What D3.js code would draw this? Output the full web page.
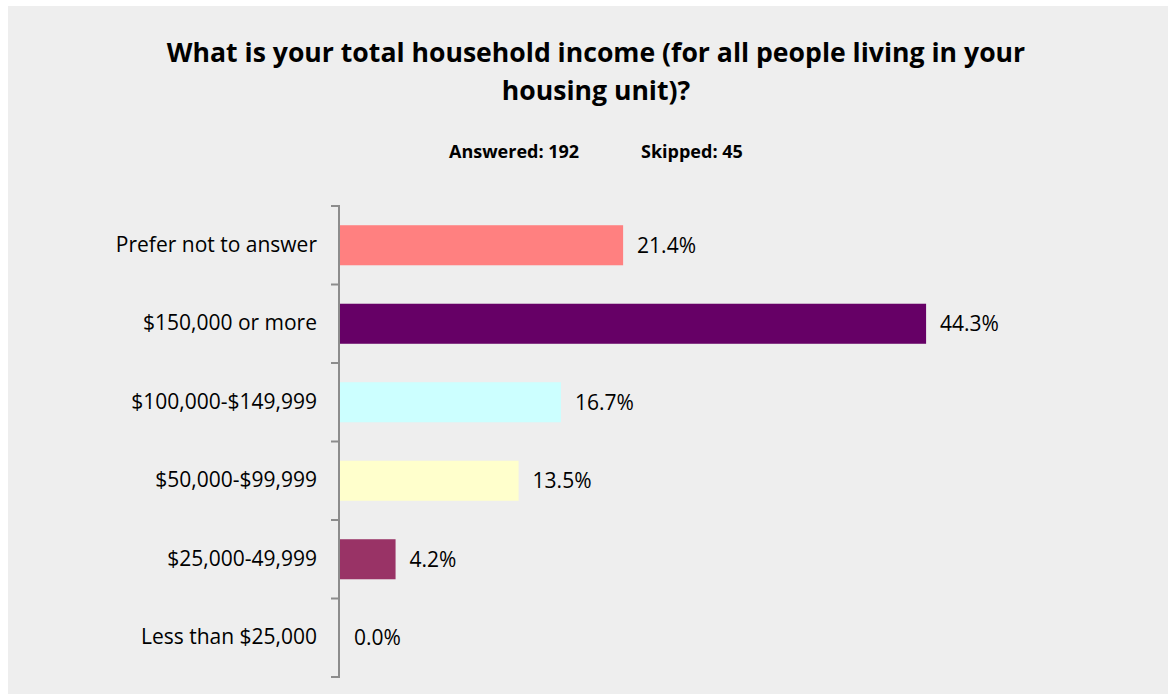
<!DOCTYPE html>
<html>
<head>
<meta charset="utf-8">
<script src="https://cdn.jsdelivr.net/npm/d3@7"></script>
<style>
html,body{margin:0;padding:0;background:#fff;}
svg{display:block;}
text{font-family:"Open Sans", sans-serif;}
</style>
</head>
<body>
<svg id="chart" width="1168" height="694"></svg>
<script>
const categories = ["Prefer not to answer", "$150,000 or more", "$100,000-$149,999", "$50,000-$99,999", "$25,000-49,999", "Less than $25,000"];
const values = [21.4, 44.3, 16.7, 13.5, 4.2, 0.0];
const colors = ["#FF8080", "#660066", "#CCFFFF", "#FFFFCC", "#993366", "#CCCCFF"];
const titleLines = ["What is your total household income (for all people living in your", "housing unit)?"];
const answered = "Answered: 192";
const skipped = "Skipped: 45";

const svg = d3.select("#chart");
svg.append("rect").attr("x", 8).attr("y", 6).attr("width", 1160).attr("height", 688).attr("fill", "#eeeeee");

const x = d3.scaleLinear().domain([0, 50]).range([340, 1001.5]);
const y = d3.scaleBand().domain(categories).range([206, 677]).paddingInner(0.49).paddingOuter(0.245);

// title
svg.append("text").attr("x", 596).attr("y", 62).attr("text-anchor", "middle")
  .attr("font-size", 26.6).attr("font-weight", "bold").attr("fill", "#000")
  .selectAll("tspan").data(titleLines).join("tspan")
  .attr("x", 596).attr("dy", (d, i) => i === 0 ? 0 : 38).text(d => d);

svg.append("text").attr("x", 449).attr("y", 158).attr("font-size", 18).attr("font-weight", "bold").text(answered);
svg.append("text").attr("x", 641).attr("y", 158).attr("font-size", 18).attr("font-weight", "bold").text(skipped);

// bars
svg.selectAll("rect.bar").data(values).join("rect").attr("class", "bar")
  .attr("x", x(0)).attr("y", (d, i) => y(categories[i]))
  .attr("width", d => x(d) - x(0)).attr("height", y.bandwidth())
  .attr("fill", (d, i) => colors[i]);

// value labels
svg.selectAll("text.val").data(values).join("text").attr("class", "val")
  .attr("x", d => x(d) + 14).attr("y", (d, i) => y(categories[i]) + y.bandwidth() / 2)
  .attr("dy", "0.35em").attr("font-size", 21).attr("fill", "#000")
  .text(d => d.toFixed(1) + "%");

// axis
const yAxisScale = d3.scaleBand().domain(categories).range([206, 677]);
const axis = d3.axisLeft(yAxisScale).tickSize(0).tickPadding(22);
const g = svg.append("g").attr("transform", "translate(339,0)").call(axis);
g.select(".domain").remove();
g.selectAll("text").attr("font-size", 21).attr("fill", "#000").style("font-family", "'Open Sans', sans-serif");
// axis line and tick marks at band boundaries
const bounds = categories.map(c => yAxisScale(c)).concat([yAxisScale.range()[1]]);
svg.append("line").attr("x1", 339).attr("x2", 339).attr("y1", 206).attr("y2", 677)
  .attr("stroke", "#8c8c8c").attr("stroke-width", 2);
svg.selectAll("line.tk").data(bounds).join("line").attr("class", "tk")
  .attr("x1", 331).attr("x2", 340).attr("y1", d => d).attr("y2", d => d)
  .attr("stroke", "#8c8c8c").attr("stroke-width", 2);
</script>
</body>
</html>
